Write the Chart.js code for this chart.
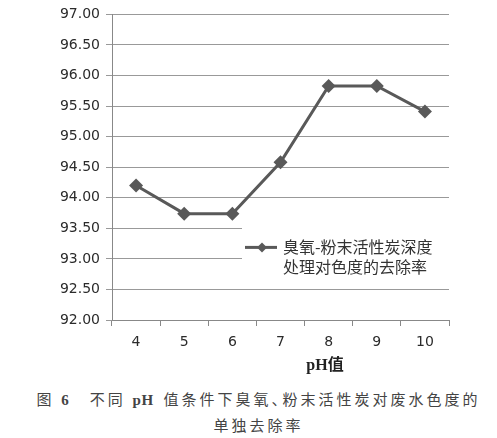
<!DOCTYPE html>
<html>
<head>
<meta charset="utf-8">
<script src="https://cdn.jsdelivr.net/npm/chart.js@4/dist/chart.umd.min.js"></script>
<style>
  html, body { margin: 0; padding: 0; background: #ffffff; }
  #wrap { width: 497px; height: 385px; position: relative; }
  .cap { font-family: "Liberation Serif", "Noto Sans CJK SC", serif; color: #444; font-size: 15px; text-align: center; line-height: 26px; letter-spacing: 3px; white-space: nowrap; padding-left: 20px; }
  .cap b { font-weight: bold; }
  .tight { letter-spacing: 0.5px; margin-right: 3px; }
  .dun { margin-right: -7px; }
</style>
</head>
<body>
<div id="wrap"><canvas id="c" width="497" height="385"></canvas></div>
<div class="cap" style="padding-top:2px">图 <b>6</b>　不同 <b class="tight">pH</b> 值条件下臭氧<span class="dun">、</span>粉末活性炭对废水色度的</div>
<div class="cap">单独去除率</div>
<script>
const categories = ['4', '5', '6', '7', '8', '9', '10'];
const removalRate = [94.20, 93.74, 93.74, 94.58, 95.83, 95.83, 95.41];
const seriesLabel = ['臭氧-粉末活性炭深度', '处理对色度的去除率'];
const xTitle = 'pH值';
const yMin = 92, yMax = 97, yStep = 0.5;

const lineColor = '#595959';

const overlayPlugin = {
  id: 'overlay',
  beforeDatasetsDraw(chart) {
    const { ctx, chartArea } = chart;
    ctx.save();
    ctx.fillStyle = '#ffffff';
    ctx.fillRect(chartArea.left + 130, chartArea.top + 198, chartArea.right - chartArea.left - 130 + 1, 72);
    ctx.restore();
  },
  afterDraw(chart) {
    const { ctx, chartArea } = chart;
    ctx.save();
    // legend
    const lx = chartArea.left + 133, ly = chartArea.top + 233;
    ctx.strokeStyle = lineColor;
    ctx.lineWidth = 3;
    ctx.beginPath();
    ctx.moveTo(lx, ly);
    ctx.lineTo(lx + 32, ly);
    ctx.stroke();
    ctx.fillStyle = lineColor;
    ctx.beginPath();
    const mx = lx + 17, r = 5;
    ctx.moveTo(mx, ly - r); ctx.lineTo(mx + r, ly); ctx.lineTo(mx, ly + r); ctx.lineTo(mx - r, ly); ctx.closePath();
    ctx.fill();
    ctx.fillStyle = '#333';
    ctx.font = '16px "Noto Sans CJK SC", sans-serif';
    ctx.textBaseline = 'middle';
    ctx.textAlign = 'left';
    ctx.fillText(seriesLabel[0], lx + 38, ly);
    ctx.fillText(seriesLabel[1], lx + 38, ly + 20);
    // x title
    ctx.fillStyle = '#222';
    ctx.font = 'bold 16px "Liberation Serif", "Noto Sans CJK SC", serif';
    ctx.textAlign = 'center';
    ctx.fillText(xTitle, chartArea.left + 213, chartArea.bottom + 46);
    ctx.restore();
  }
};

new Chart(document.getElementById('c'), {
  type: 'line',
  data: {
    labels: categories,
    datasets: [{
      label: seriesLabel.join(''),
      data: removalRate,
      borderColor: lineColor,
      backgroundColor: lineColor,
      borderWidth: 3,
      pointStyle: 'rectRot',
      pointRadius: 7,
      pointHoverRadius: 7,
      pointBackgroundColor: lineColor,
      pointBorderColor: lineColor,
      pointBorderWidth: 0,
      tension: 0,
      fill: false
    }]
  },
  options: {
    responsive: false,
    animation: false,
    devicePixelRatio: 1,
    layout: { padding: { top: 10, right: 48, bottom: 0, left: 0 } },
    plugins: { legend: { display: false }, tooltip: { enabled: false }, title: { display: false } },
    scales: {
      x: {
        type: 'category',
        offset: true,
        grid: { display: true, offset: true, drawOnChartArea: false, drawTicks: true, tickLength: 6, color: '#888', lineWidth: 1 },
        border: { display: true, color: '#888', width: 1 },
        ticks: { color: '#2b2b2b', font: { family: '"DejaVu Sans", sans-serif', size: 14 }, padding: 8, maxRotation: 0 },
        afterFit(scale) { scale.height = 65; }
      },
      y: {
        min: yMin, max: yMax,
        grid: { color: '#999', lineWidth: 1, tickLength: 6, drawTicks: true },
        border: { display: true, color: '#888', width: 1 },
        ticks: {
          stepSize: yStep, color: '#2b2b2b', padding: 6,
          font: { family: '"DejaVu Sans", sans-serif', size: 14 },
          callback: (v) => Number(v).toFixed(2)
        },
        afterFit(scale) { scale.width = 112; }
      }
    }
  },
  plugins: [overlayPlugin]
});
</script>
</body>
</html>
